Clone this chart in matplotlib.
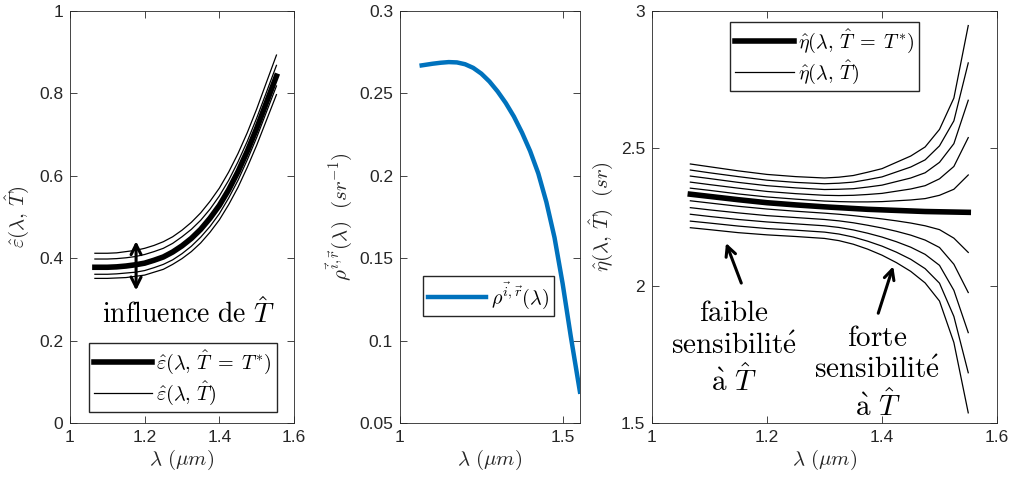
import matplotlib
matplotlib.use("Agg")
import matplotlib.pyplot as plt

plt.rcParams['mathtext.fontset'] = 'cm'
plt.rcParams['font.family'] = ['Liberation Sans', 'DejaVu Sans']

# ---------------- data ----------------
# panel 1 : emissivity
lam_eps = [1.0667, 1.1, 1.125, 1.15, 1.175, 1.2, 1.225, 1.25, 1.275, 1.3,
           1.325, 1.35, 1.375, 1.4, 1.425, 1.45, 1.475, 1.5, 1.525, 1.553]
eps_ref = [0.378, 0.378, 0.379, 0.381, 0.384, 0.388, 0.395, 0.403, 0.415, 0.430,
           0.448, 0.470, 0.497, 0.528, 0.566, 0.610, 0.660, 0.715, 0.775, 0.842]
eps_up1 = [0.412, 0.412, 0.413, 0.416, 0.419, 0.424, 0.431, 0.440, 0.452, 0.468,
           0.487, 0.510, 0.538, 0.570, 0.609, 0.654, 0.705, 0.762, 0.824, 0.893]
eps_up2 = [0.398, 0.398, 0.399, 0.401, 0.404, 0.409, 0.416, 0.424, 0.436, 0.452,
           0.470, 0.492, 0.519, 0.551, 0.589, 0.634, 0.684, 0.740, 0.800, 0.868]
eps_lo1 = [0.361, 0.361, 0.362, 0.364, 0.366, 0.370, 0.377, 0.385, 0.396, 0.411,
           0.429, 0.451, 0.477, 0.508, 0.546, 0.589, 0.639, 0.693, 0.752, 0.818]
eps_lo2 = [0.351, 0.351, 0.352, 0.353, 0.356, 0.359, 0.366, 0.373, 0.385, 0.399,
           0.416, 0.437, 0.463, 0.493, 0.530, 0.572, 0.621, 0.674, 0.732, 0.797]

# panel 2 : BRDF
lam_rho = [1.0667, 1.1, 1.125, 1.15, 1.175, 1.2, 1.225, 1.25, 1.275, 1.3,
           1.325, 1.35, 1.375, 1.4, 1.425, 1.45, 1.475, 1.5, 1.525, 1.553]
rho = [0.2670, 0.2680, 0.2686, 0.2690, 0.2688, 0.2677, 0.2655, 0.2620, 0.2572, 0.2512,
       0.2442, 0.2360, 0.2262, 0.2150, 0.2015, 0.1840, 0.1625, 0.1345, 0.1025, 0.0690]

# panel 3 : eta
lam_eta = [1.0667, 1.1, 1.15, 1.2, 1.25, 1.3, 1.325, 1.35, 1.375, 1.4,
           1.425, 1.45, 1.475, 1.5, 1.525, 1.55]
eta_ref = [2.333, 2.325, 2.313, 2.302, 2.294, 2.287, 2.284, 2.281, 2.278, 2.276,
           2.274, 2.272, 2.270, 2.269, 2.268, 2.267]
eta_u1 = [2.355, 2.347, 2.334, 2.323, 2.315, 2.308, 2.306, 2.305, 2.305, 2.306,
          2.309, 2.312, 2.317, 2.329, 2.351, 2.403]
eta_u2 = [2.377, 2.368, 2.355, 2.343, 2.335, 2.329, 2.328, 2.329, 2.332, 2.336,
          2.344, 2.352, 2.364, 2.389, 2.434, 2.539]
eta_u3 = [2.399, 2.390, 2.376, 2.364, 2.356, 2.350, 2.351, 2.353, 2.359, 2.366,
          2.379, 2.392, 2.411, 2.449, 2.517, 2.675]
eta_u4 = [2.421, 2.411, 2.397, 2.384, 2.376, 2.371, 2.373, 2.377, 2.386, 2.396,
          2.414, 2.432, 2.458, 2.509, 2.600, 2.811]
eta_u5 = [2.443, 2.433, 2.418, 2.405, 2.397, 2.392, 2.395, 2.401, 2.413, 2.426,
          2.449, 2.472, 2.505, 2.569, 2.683, 2.947]
eta_l1 = [2.309, 2.301, 2.289, 2.279, 2.271, 2.264, 2.260, 2.255, 2.249, 2.243,
          2.236, 2.228, 2.218, 2.204, 2.173, 2.121]
eta_l2 = [2.284, 2.276, 2.265, 2.255, 2.248, 2.241, 2.236, 2.229, 2.220, 2.210,
          2.198, 2.184, 2.166, 2.139, 2.078, 1.975]
eta_l3 = [2.260, 2.252, 2.241, 2.232, 2.225, 2.218, 2.212, 2.203, 2.191, 2.177,
          2.160, 2.140, 2.114, 2.074, 1.983, 1.829]
eta_l4 = [2.235, 2.228, 2.217, 2.208, 2.202, 2.195, 2.188, 2.177, 2.162, 2.144,
          2.122, 2.096, 2.062, 2.009, 1.888, 1.683]
eta_l5 = [2.211, 2.204, 2.193, 2.185, 2.179, 2.172, 2.164, 2.151, 2.133, 2.111,
          2.084, 2.052, 2.010, 1.944, 1.793, 1.537]

x_ticks_13 = [1, 1.2, 1.4, 1.6]
x_ticklabels_13 = ['1', '1.2', '1.4', '1.6']
x_ticks_2 = [1, 1.5]
x_ticklabels_2 = ['1', '1.5']
y_ticks_1 = [0, 0.2, 0.4, 0.6, 0.8, 1]
y_ticklabels_1 = ['0', '0.2', '0.4', '0.6', '0.8', '1']
y_ticks_2 = [0.05, 0.1, 0.15, 0.2, 0.25, 0.3]
y_ticklabels_2 = ['0.05', '0.1', '0.15', '0.2', '0.25', '0.3']
y_ticks_3 = [1.5, 2, 2.5, 3]
y_ticklabels_3 = ['1.5', '2', '2.5', '3']

# ---------------- figure ----------------
W, H = 1010, 482
fig = plt.figure(figsize=(W / 100, H / 100), dpi=100)
ax1 = fig.add_axes([70 / W, 59 / H, 224 / W, 412 / H])
ax2 = fig.add_axes([400 / W, 59 / H, 180 / W, 412 / H])
ax3 = fig.add_axes([652 / W, 59 / H, 345 / W, 412 / H])

AXC = '#262626'
TS = 12.5
for ax in (ax1, ax2, ax3):
    for s in ax.spines.values():
        s.set_color(AXC)
        s.set_linewidth(0.6)
    ax.tick_params(direction='in', length=5, width=0.6, colors=AXC,
                   labelsize=TS, top=True, right=True, pad=5)

thin_kw = dict(color='black', lw=0.9)
thick_lw = 4.0
leg_kw = dict(fontsize=14.5, handlelength=2.9, fancybox=False, edgecolor=AXC,
              framealpha=1, borderpad=0.25, labelspacing=0.15,
              handletextpad=0.2, borderaxespad=0)

# panel 1
for c in (eps_up1, eps_up2, eps_lo1, eps_lo2):
    ax1.plot(lam_eps, c, **thin_kw)
h1, = ax1.plot(lam_eps, eps_ref, color='black', lw=thick_lw)
h2, = ax1.plot([], [], **thin_kw)
ax1.set_xlim(1, 1.6)
ax1.set_ylim(0, 1)
ax1.set_xticks(x_ticks_13, x_ticklabels_13)
ax1.set_yticks(y_ticks_1, y_ticklabels_1)
ax1.set_xlabel(r'$\lambda\ (\mu m)$', fontsize=15, color=AXC, labelpad=2)
ax1.set_ylabel(r'$\hat{\varepsilon}(\lambda,\,\hat{T})$', fontsize=15, color=AXC, labelpad=6)
ax1.legend([h1, h2], [r'$\hat{\varepsilon}(\lambda,\,\hat{T}\;=\;T^{*})$', r'$\hat{\varepsilon}(\lambda,\,\hat{T})$'],
           loc='lower right', bbox_to_anchor=(0.924, 0.027), **leg_kw)
ax1.annotate('', xy=(1.177, 0.448), xytext=(1.177, 0.315),
             arrowprops=dict(arrowstyle='<->', lw=2.2, color='black', mutation_scale=18))
ax1.text(1.318, 0.265, r'$\mathrm{influence\ de\ }\hat{T}$', fontsize=20, ha='center', va='center')

# panel 2
h3, = ax2.plot(lam_rho, rho, color='#0072BD', lw=3.2)
ax2.set_xlim(1, 1.5533)
ax2.set_ylim(0.05, 0.3)
ax2.set_xticks(x_ticks_2, x_ticklabels_2)
ax2.set_yticks(y_ticks_2, y_ticklabels_2)
ax2.set_xlabel(r'$\lambda\ (\mu m)$', fontsize=15, color=AXC, labelpad=2)
ax2.set_ylabel(r'$\rho^{\vec{i},\vec{r}}(\lambda)\ \ (sr^{-1})$', fontsize=15, color=AXC, labelpad=4)
ax2.legend([h3], [r'$\rho^{\vec{i},\vec{r}}(\lambda)$'], loc='upper left',
           bbox_to_anchor=(0.128, 0.357), **leg_kw)

# panel 3
for c in (eta_u1, eta_u2, eta_u3, eta_u4, eta_u5, eta_l1, eta_l2, eta_l3, eta_l4, eta_l5):
    ax3.plot(lam_eta, c, **thin_kw)
h4, = ax3.plot(lam_eta, eta_ref, color='black', lw=thick_lw)
h5, = ax3.plot([], [], **thin_kw)
ax3.set_xlim(1, 1.6)
ax3.set_ylim(1.5, 3)
ax3.set_xticks(x_ticks_13, x_ticklabels_13)
ax3.set_yticks(y_ticks_3, y_ticklabels_3)
ax3.set_xlabel(r'$\lambda\ (\mu m)$', fontsize=15, color=AXC, labelpad=2)
ax3.set_ylabel(r'$\hat{\eta}(\lambda,\,\hat{T})\ \ (sr)$', fontsize=15, color=AXC, labelpad=4)
ax3.legend([h4, h5], [r'$\hat{\eta}(\lambda,\,\hat{T}\;=\;T^{*})$', r'$\hat{\eta}(\lambda,\,\hat{T})$'],
           loc='upper left', bbox_to_anchor=(0.227, 0.973), **leg_kw)

ax3.annotate('', xy=(1.127, 2.165), xytext=(1.157, 2.0),
             arrowprops=dict(arrowstyle='->', lw=2.2, color='black', mutation_scale=18))
ax3.annotate('', xy=(1.421, 2.08), xytext=(1.392, 1.89),
             arrowprops=dict(arrowstyle='->', lw=2.2, color='black', mutation_scale=18))
ax3.text(1.142, 1.772,
         r'$\mathrm{faible}$' + '\n' + r'$\mathrm{sensibilit}\acute{\mathrm{e}}$' + '\n' + r'$\grave{\mathrm{a}}\ \hat{T}$',
         fontsize=21, ha='center', va='center', linespacing=1.2)
ax3.text(1.392, 1.683,
         r'$\mathrm{forte}$' + '\n' + r'$\mathrm{sensibilit}\acute{\mathrm{e}}$' + '\n' + r'$\grave{\mathrm{a}}\ \hat{T}$',
         fontsize=21, ha='center', va='center', linespacing=1.2)

fig.savefig('out.png', dpi=100, facecolor='white')
